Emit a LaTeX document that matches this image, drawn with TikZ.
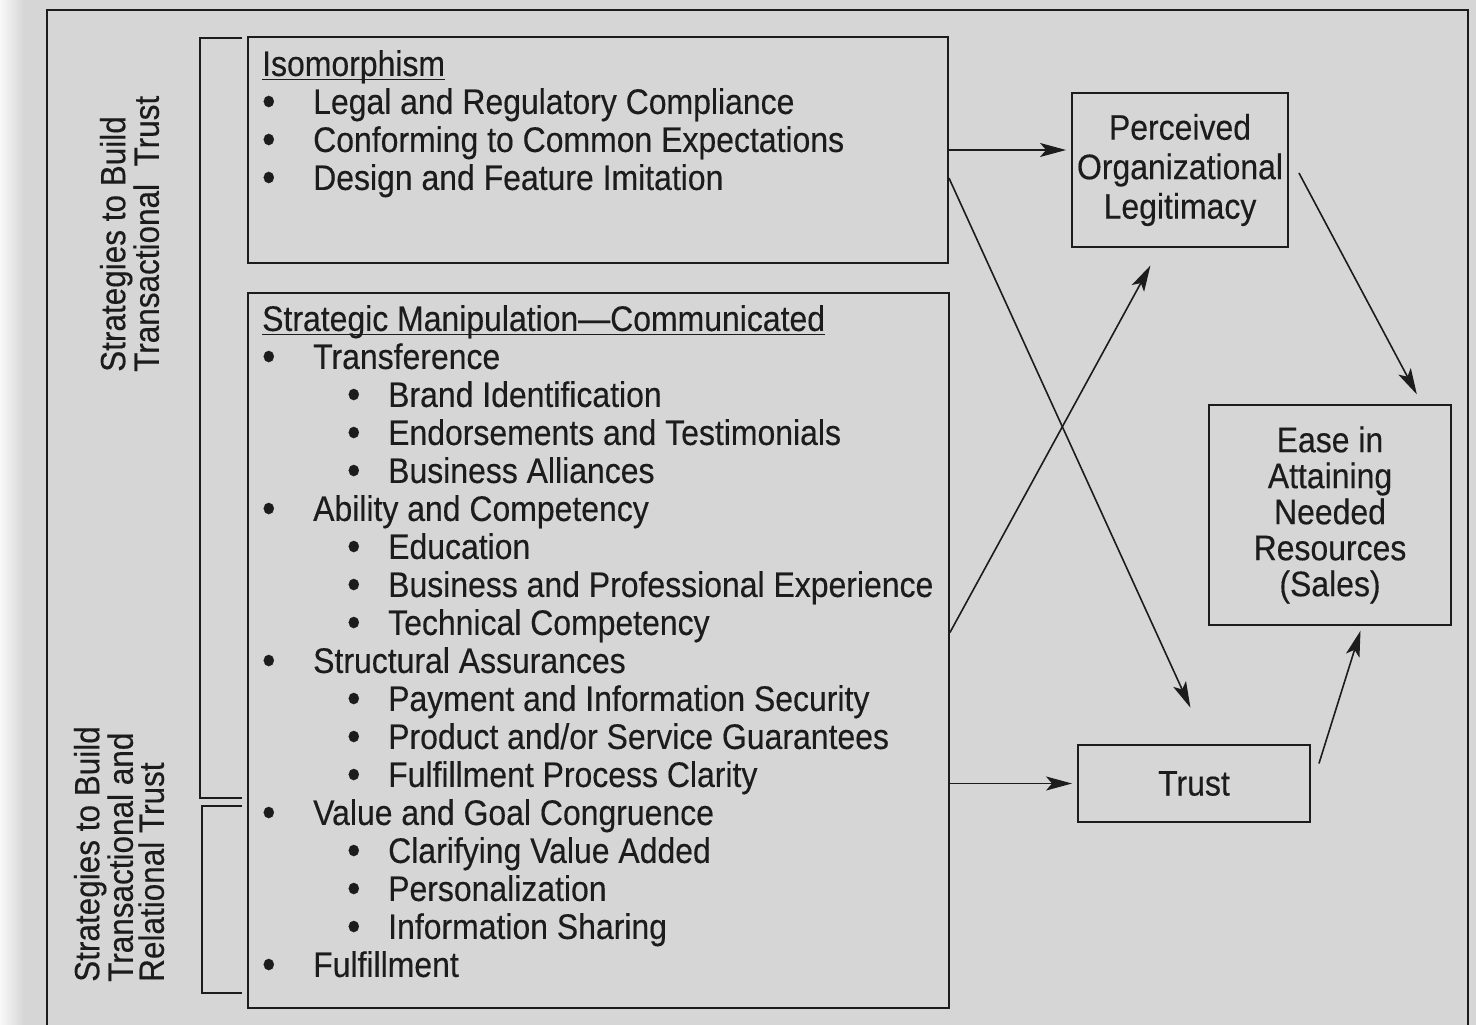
\documentclass[tikz,border=0pt]{standalone}
\usepackage{fontspec}
\setmainfont{Liberation Sans}[FakeStretch=0.9,FakeBold=0.3]
\usetikzlibrary{arrows.meta,calc}
\definecolor{paper}{RGB}{214,214,214}
\definecolor{ink}{RGB}{28,28,28}
\newlength{\hlwd}
\newcommand{\headline}[1]{\settowidth{\hlwd}{#1}\rlap{\rule[-4.5pt]{\hlwd}{1.6pt}}#1}
\newcommand{\blt}{\raisebox{-1.5pt}{\fontsize{42}{38}\selectfont\textbullet}}
\newcommand{\lone}[1]{\makebox[51pt][l]{\blt}#1}
\newcommand{\ltwo}[1]{\makebox[126pt][r]{\makebox[41pt][l]{\blt}}#1}
\tikzset{inner sep=0pt}

\begin{document}
\begin{tikzpicture}[x=1pt, y=-1pt,
            font=\fontsize{35.5}{38}\selectfont, text=ink,
            box/.style={draw=ink, line width=1.9pt, rectangle, align=center},
            list/.style={anchor=north west, align=left},
            side/.style={rotate=90, anchor=west, align=left, font=\fontsize{35}{31}\selectfont},
            arr/.style={draw=ink, line width=1.6pt, -{Stealth[length=26pt,width=14pt,inset=6pt]}},
            frame/.style={draw=ink, line width=1.9pt}
            ]
            \fill[paper] (0,0) rectangle (1476,1025);
            \shade[left color=white!85!paper, right color=paper] (0,0) rectangle (24,1025);
            \useasboundingbox (0,0) rectangle (1476,1025);

            \draw[frame] (47,1025) -- (47,10) -- (1468,10) -- (1468,1025);
            \draw[frame] (242,38) -- (200,38) -- (200,798) -- (242,798);
            \draw[frame] (242,806) -- (202,806) -- (202,993) -- (242,993);

            \node[side] (trans) at (129.5,372) {Strategies to Build\\Transactional\ \ Trust};
            \node[side] (rel) at (119,982) {Strategies to Build\\Transactional and\\Relational Trust};

            \node[box, minimum width=700pt, minimum height=226pt] (iso) at (598,150) {};
            \node[box, minimum width=701pt, minimum height=715pt] (strat) at (598.5,650.5) {};

            \node[list] (isolist) at (262,50) {\headline{Isomorphism}\\
                \lone{Legal and Regulatory Compliance}\\
                \lone{Conforming to Common Expectations}\\
                \lone{Design and Feature Imitation}};
            \node[list] (stratlist) at (262,305) {\headline{Strategic Manipulation---Communicated}\\
                \lone{Transference}\\
                \ltwo{Brand Identification}\\
                \ltwo{Endorsements and Testimonials}\\
                \ltwo{Business Alliances}\\
                \lone{Ability and Competency}\\
                \ltwo{Education}\\
                \ltwo{Business and Professional Experience}\\
                \ltwo{Technical Competency}\\
                \lone{Structural Assurances}\\
                \ltwo{Payment and Information Security}\\
                \ltwo{Product and/or Service Guarantees}\\
                \ltwo{Fulfillment Process Clarity}\\
                \lone{Value and Goal Congruence}\\
                \ltwo{Clarifying Value Added}\\
                \ltwo{Personalization}\\
                \ltwo{Information Sharing}\\
                \lone{Fulfillment}};

            \node[box, minimum width=216pt, minimum height=154pt, font=\fontsize{35.5}{39.5}\selectfont] (pol) at (1180,170) {Perceived\\Organizational\\Legitimacy};
            \node[box, minimum width=242pt, minimum height=220pt, font=\fontsize{35.5}{36}\selectfont] (ease) at (1330,515) {Ease in\\Attaining\\Needed\\Resources\\(Sales)};
            \node[box, minimum width=232pt, minimum height=77pt] (trust) at (1194,783.5) {Trust};

            \coordinate (pol-in) at ($(pol.west)+(0,-20)$);
            \draw[arr, shorten >=5pt] (iso.east |- pol-in) -- (pol-in);
            \draw[arr, shorten >=5pt] (strat.east |- trust.west) -- (trust.west);
            \draw[arr, shorten >=40pt] ($(iso.east)+(0,28)$) -- ($(trust.north)+(13,0)$);
            \draw[arr, shorten >=20pt] ($(strat.east)+(0,-18)$) -- ($(pol.south)+(-20,0)$);
            \draw[arr, shorten >=11pt] ($(pol.east)+(10,3)$) -- ($(ease.north)+(92,0)$);
            \draw[arr, shorten >=5pt] ($(trust.east)+(8,-20)$) -- ($(ease.south)+(32,0)$);
        \end{tikzpicture}
\end{document}
